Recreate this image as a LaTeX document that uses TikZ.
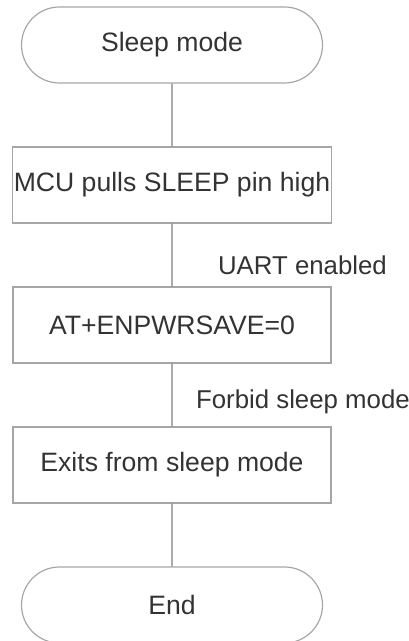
\documentclass[tikz,border=0pt]{standalone}
\usepackage{fontspec}
\setmainfont{Liberation Sans}
\usetikzlibrary{shapes.misc}
\definecolor{linegray}{HTML}{7F7F7F}
\definecolor{boxgray}{HTML}{A6A6A6}
\definecolor{textgray}{HTML}{333333}

\begin{document}
\begin{tikzpicture}[level distance=70pt,
  edge from parent/.style={draw=linegray,line width=0.6pt},
  term/.style={rounded rectangle,draw=boxgray,line width=0.6pt,minimum width=151.5pt,
    minimum height=38pt,inner sep=0.5pt,text=textgray,font=\fontsize{13.3}{16}\selectfont},
  proc/.style={rectangle,draw=boxgray,line width=0.6pt,minimum width=159pt,
    minimum height=38pt,inner sep=0.5pt,text=textgray,font=\fontsize{13.3}{16}\selectfont},
  cond/.style={anchor=west,inner sep=0pt,text=textgray,font=\fontsize{12.9}{15}\selectfont}]
\useasboundingbox (-86pt,22.5pt) rectangle (118pt,-298pt);
\node [term] (sleep) {Sleep mode}
  child {node [proc] (pull) {MCU pulls SLEEP pin high}
    child {node [proc] (cmd) {AT+ENPWRSAVE=0}
      child {node [proc] (exit) {Exits from sleep mode}
        child {node [term] (end) {End}}
        edge from parent node [cond,pos=0.61,xshift=11.75pt] {Forbid sleep mode}
      }
      edge from parent node [cond,pos=0.66,xshift=22.75pt] {UART enabled}
    }
  };
\end{tikzpicture}
\end{document}
